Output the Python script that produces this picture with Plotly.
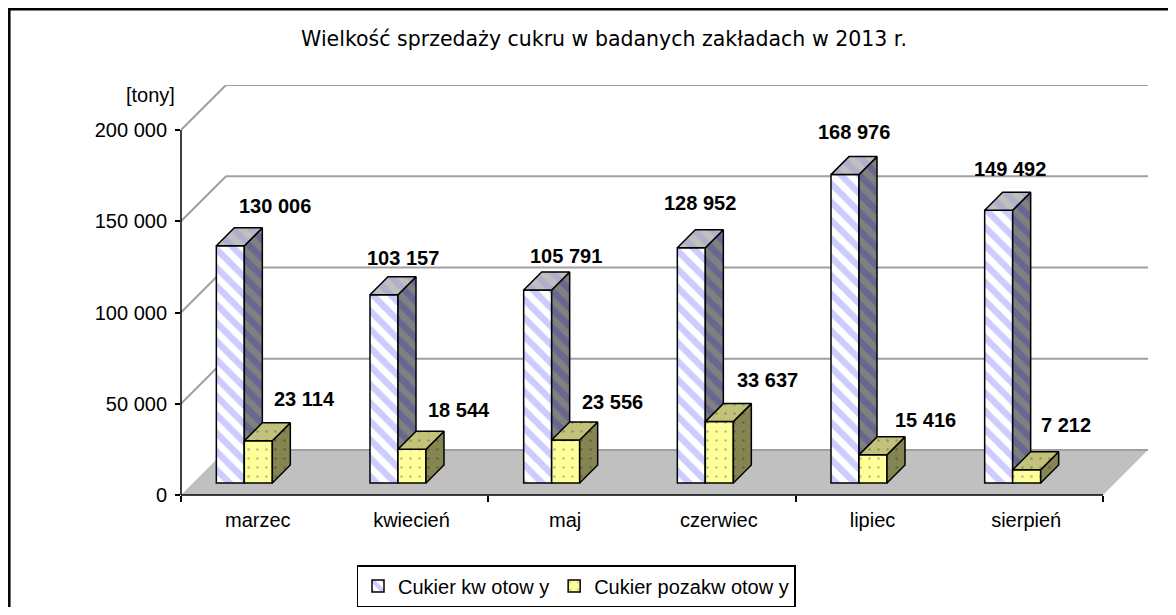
import plotly.graph_objects as go

# ---------------- data ----------------
months = ["marzec", "kwiecień", "maj", "czerwiec", "lipiec", "sierpień"]
kwotowy = [130006, 103157, 105791, 128952, 168976, 149492]
pozakwotowy = [23114, 18544, 23556, 33637, 15416, 7212]
y_ticks = [0, 50000, 100000, 150000, 200000]
series_names = ["Cukier kw otow y", "Cukier pozakw otow y"]
title_text = "Wielkość sprzedaży cukru w badanych zakładach w 2013 r."
unit_text = "[tony]"

# label nudges in pixels (x right, y up) relative to bar top
kw_label_dx = [17, -9, 1, -19, -19, -16]
kw_label_dy = [40, 37, 34, 45, 43, 41]
pk_label_dx = [47, 47, 47, 49, 53, 40]
pk_label_dy = [42, 39, 38, 42, 35, 45]

# ---------------- geometry (pixels) ----------------
PAGE = 8              # default page margin of the html body
W, H = 1176 - 2 * PAGE, 615 - 2 * PAGE
ML, MT = 181 - PAGE, 85 - PAGE
PW, PH = 967, 410
MR, MB = W - ML - PW, H - MT - PH
N = len(months)
YMAX = y_ticks[-1]
AX_LEN = 922          # px length of front category axis
Y_LEN = 365           # px from 0 to YMAX
XU = N / AX_LEN       # x units per px
YU = YMAX / Y_LEN     # y units per px
WALL = 45             # px depth of the floor / back wall
DEPTH = 18            # px depth of each bar
BASE = 12             # px bar base above the front edge
BAR_W = 28            # px bar width
JUNC = -13.5          # px junction of the pair relative to category center

x_range = [-0.5, N - 0.5 + WALL * XU]
y_range = [0, YMAX + WALL * YU]


def pxx(px):
    return (px - PAGE - ML) / PW


def pxy(py):
    return (H - MB - (py - PAGE)) / PH


FONT = "Liberation Sans, Arial, sans-serif"


def fmt(v):
    return f"{v:,}".replace(",", " ")


def faces(vals, x_off):
    b = BASE * YU
    dx, dy, w = DEPTH * XU, DEPTH * YU, BAR_W * XU
    sx, sy, tx, ty = [], [], [], []
    for k, v in enumerate(vals):
        x0 = k + x_off
        x1 = x0 + w
        sx += [x1, x1 + dx, x1 + dx, x1, x1, None]
        sy += [b, b + dy, b + v + dy, b + v, b, None]
        tx += [x0, x1, x1 + dx, x0 + dx, x0, None]
        ty += [b + v, b + v, b + v + dy, b + v + dy, b + v, None]
    return sx, sy, tx, ty


fig = go.Figure()

xs = list(range(N))
base_vals = [BASE * YU] * N

# ---- series 1 (blue, striped) on base subplot
fig.add_trace(go.Bar(
    x=xs, y=kwotowy, base=base_vals, name=series_names[0],
    width=BAR_W * XU, offset=(JUNC - BAR_W) * XU,
    marker=dict(color="white",
                pattern=dict(shape="\\", fgcolor="#9999FF", bgcolor="white",
                             size=13, solidity=0.5),
                line=dict(color="black", width=1.5)),
    hoverinfo="skip", legendrank=1,
))
sx, sy, tx, ty = faces(kwotowy, (JUNC - BAR_W) * XU)
fig.add_trace(go.Scatter(
    x=sx, y=sy, mode="lines", fill="toself", fillcolor="#808080",
    fillpattern=dict(shape="\\", fgcolor="#4D4DA0", bgcolor="#808080", size=13, solidity=0.5),
    line=dict(color="black", width=1.5), showlegend=False, hoverinfo="skip"))
fig.add_trace(go.Scatter(
    x=tx, y=ty, mode="lines", fill="toself", fillcolor="#C0C0C0",
    fillpattern=dict(shape="\\", fgcolor="#9F9FD8", bgcolor="#C0C0C0", size=13, solidity=0.5),
    line=dict(color="black", width=1.5), showlegend=False, hoverinfo="skip"))

# ---- series 2 (yellow, dotted) on overlay subplot (drawn in front)
fig.add_trace(go.Bar(
    x=xs, y=pozakwotowy, base=base_vals, name=series_names[1],
    width=BAR_W * XU, offset=JUNC * XU, xaxis="x2", yaxis="y2",
    marker=dict(color="#FFFF99",
                pattern=dict(shape=".", fgcolor="#707070", bgcolor="#FFFF99",
                             size=9, solidity=0.06),
                line=dict(color="black", width=1.5)),
    hoverinfo="skip", legendrank=2,
))
sx, sy, tx, ty = faces(pozakwotowy, JUNC * XU)
fig.add_trace(go.Scatter(
    x=sx, y=sy, mode="lines", fill="toself", fillcolor="#858552", xaxis="x2", yaxis="y2",
    fillpattern=dict(shape=".", fgcolor="#404020", bgcolor="#858552", size=9, solidity=0.06),
    line=dict(color="black", width=1.5), showlegend=False, hoverinfo="skip"))
fig.add_trace(go.Scatter(
    x=tx, y=ty, mode="lines", fill="toself", fillcolor="#C2C27A", xaxis="x2", yaxis="y2",
    fillpattern=dict(shape=".", fgcolor="#606035", bgcolor="#C2C27A", size=9, solidity=0.06),
    line=dict(color="black", width=1.5), showlegend=False, hoverinfo="skip"))

# ---------------- walls / floor / axis lines ----------------
shapes = []
D = WALL * XU
DY = WALL * YU
x_left, x_right = -0.5, N - 0.5
# floor
shapes.append(dict(type="path", xref="x", yref="y", layer="below",
                   path=f"M{x_left},0 L{x_right},0 L{x_right + D},{DY} L{x_left + D},{DY} Z",
                   fillcolor="#C0C0C0", line=dict(width=0)))
# back-wall gridlines and side-wall diagonals
for t in y_ticks:
    shapes.append(dict(type="line", xref="x", yref="y", layer="below",
                       x0=x_left + D, x1=x_right + D, y0=t + DY, y1=t + DY,
                       line=dict(color="#A0A0A0", width=2)))
    if t > 0:
        shapes.append(dict(type="line", xref="x", yref="y", layer="below",
                           x0=x_left, x1=x_left + D, y0=t, y1=t + DY,
                           line=dict(color="#A0A0A0", width=2)))
# y axis line
shapes.append(dict(type="line", xref="paper", yref="y", x0=0, x1=0, y0=0, y1=YMAX,
                   line=dict(color="black", width=1.5)))
# x axis (front edge)
shapes.append(dict(type="line", xref="x", yref="paper", x0=x_left, x1=x_right, y0=0, y1=0,
                   line=dict(color="black", width=1.5)))
# outer frame (right and bottom edges fall outside the picture)
shapes.append(dict(type="rect", xref="paper", yref="paper",
                   x0=pxx(9.3), x1=pxx(1200), y0=pxy(640), y1=pxy(9.3),
                   line=dict(color="black", width=2.5), fillcolor="rgba(0,0,0,0)"))

# ---------------- annotations ----------------
annotations = []
for k in range(N):
    annotations.append(dict(x=k, y=BASE * YU + kwotowy[k], xref="x", yref="y",
                            text=f"<b>{fmt(kwotowy[k])}</b>", showarrow=False,
                            xshift=kw_label_dx[k], yshift=kw_label_dy[k],
                            font=dict(family=FONT, size=20, color="black")))
    annotations.append(dict(x=k, y=BASE * YU + pozakwotowy[k], xref="x", yref="y",
                            text=f"<b>{fmt(pozakwotowy[k])}</b>", showarrow=False,
                            xshift=pk_label_dx[k], yshift=pk_label_dy[k],
                            font=dict(family=FONT, size=20, color="black")))
annotations.append(dict(x=pxx(177), y=pxy(95), xref="paper", yref="paper",
                        xanchor="right", yanchor="middle", text=unit_text, showarrow=False,
                        font=dict(family=FONT, size=20, color="black")))

fig.update_layout(
    width=W, height=H,
    margin=dict(l=ML, r=MR, t=MT, b=MB, pad=0, autoexpand=False),
    paper_bgcolor="white", plot_bgcolor="white",
    separators=", ",
    title=dict(text=title_text, x=(604 - PAGE) / W, xanchor="center",
               y=1 - (39 - PAGE) / H, yanchor="middle",
               xref="container", yref="container",
               font=dict(family="Comic Sans MS, DejaVu Sans, sans-serif", size=20.5, color="black")),
    xaxis=dict(range=x_range, tickvals=xs, ticktext=months, ticks="", showgrid=False,
               zeroline=False, showline=False, ticklabelstandoff=11,
               tickfont=dict(family=FONT, size=20, color="black"),
               minor=dict(tickvals=[-0.5, 1.5, 3.5, 5.5], ticks="outside", ticklen=6,
                          tickcolor="black", tickwidth=1.5, showgrid=False)),
    yaxis=dict(range=y_range, tickvals=y_ticks, tickformat=",d", ticks="outside", ticklen=5,
               tickcolor="black", tickwidth=1.5, showgrid=False, zeroline=False, showline=False,
               ticklabelstandoff=4,
               tickfont=dict(family=FONT, size=20, color="black")),
    xaxis2=dict(range=x_range, overlaying="x", visible=False),
    yaxis2=dict(range=y_range, overlaying="y", visible=False),
    showlegend=True,
    legend=dict(orientation="h", x=pxx(576), xanchor="center", y=pxy(565), yanchor="top",
                bordercolor="black", borderwidth=1.5, bgcolor="white",
                font=dict(family=FONT, size=20, color="black"), traceorder="normal",
                itemclick=False),
    shapes=shapes,
    annotations=annotations,
)

fig.write_html("out.html")
